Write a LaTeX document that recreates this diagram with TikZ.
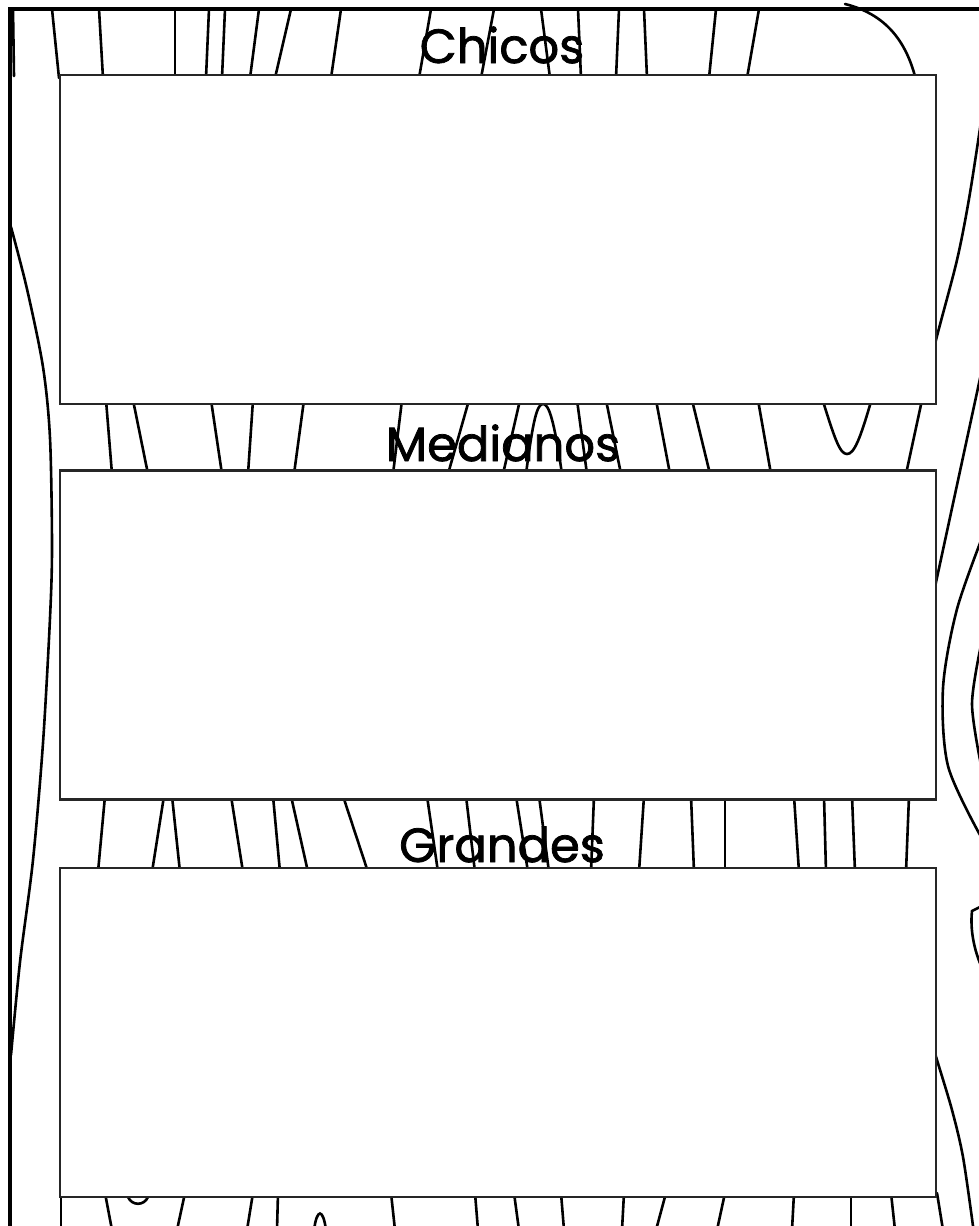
\documentclass[tikz,border=0pt]{standalone}
\usepackage{fontspec}
\setmainfont{Poppins}
\newfontfamily\titlefont{Poppins}[FakeBold=1.6]

\begin{document}
\begin{tikzpicture}[x=0.5pt, y=-0.5pt,
    grain/.style={draw=black, line width=1.3pt, line cap=round},
    panel/.style={rectangle, draw=black!85, line width=1.3pt, fill=white,
        minimum width=438pt, minimum height=164.5pt, inner sep=0pt},
    title/.style={anchor=base, font=\titlefont\fontsize{24}{29}\selectfont, text=black}
]
    \useasboundingbox (0,0) rectangle (979,1226);
    \clip (0,0) rectangle (979,1226);
    \fill[white] (0,0) rectangle (979,1226);

    % top strip
    \foreach \a/\b in {52/59, 99/103, 175/175, 209/206, 225/222, 259/250, 291/275, 341/331, 431/419,
        494/481, 541/550, 578/581, 619/616, 644/647, 716/709, 759/747}
        \draw[grain] (\a,9) -- (\b,78);
    \draw[grain] (13,9) -- (14,76);
    \draw[grain] (845,4) .. controls (885,14) and (906,40) .. (916,80);

    % between Chicos and Medianos
    \foreach \a/\b in {106/112, 133/148, 211/222, 253/248, 304/294, 402/393, 469/448, 520/503,
        577/587, 606/621, 656/670, 692/710, 758/771, 922/906}
        \draw[grain] (\a,400) -- (\b,474);
    \draw[grain] (526,474) .. controls (533,420) and (537,404) .. (543,404)
        .. controls (549,404) and (554,420) .. (562,474);
    \draw[grain] (822,398) .. controls (835,440) and (840,454) .. (847,454)
        .. controls (854,454) and (860,440) .. (872,398);

    % between Medianos and Grandes
    \foreach \a/\b in {105/98, 164/152, 172/180, 231/243, 273/280, 291/308, 343/368, 427/438,
        466/475, 516/528, 539/549, 594/591, 644/639, 691/694, 725/725, 794/799, 824/826,
        852/855, 909/906}
        \draw[grain] (\a,796) -- (\b,872);

    % bottom strip
    \foreach \a/\b in {61/61, 105/112, 185/177, 253/247, 278/277, 391/395, 475/478, 514/519,
        561/564, 624/622, 666/656, 725/717, 794/792, 851/851, 891/895, 937/943}
        \draw[grain] (\a,1193) -- (\b,1230);
    \draw[grain] (128,1197) .. controls (132,1206) and (144,1206) .. (148,1197);
    \draw[grain] (314,1230) .. controls (317,1208) and (323,1208) .. (326,1230);

    % side margins
    \draw[grain] plot[smooth] coordinates {(11,227) (27,289) (43,367) (50,438) (52,547)
        (50,618) (43,743) (33,860) (20,962) (11,1055)};
    \draw[grain] plot[smooth] coordinates {(985,95) (970,193) (957,260) (936,340) (925,390)};
    \draw[grain] (984,360) -- (930,610);
    \draw[grain] plot[smooth] coordinates {(985,530) (957,609) (943,688) (948,766) (980,835)};
    \draw[grain] plot[smooth] coordinates {(981,645) (972,704) (981,765)};
    \draw[grain] (982,906) -- (972,911) .. controls (970,930) and (974,950) .. (982,968);
    \draw[grain] plot[smooth] coordinates {(928,1030) (937,1060) (952,1110) (963,1157) (973,1226)};

    \draw[line width=1.6pt] (10,1240) -- (10,9) -- (990,9);

    \node[panel] (chicos) at (498,239.5) {};
    \node[panel] (medianos) at (498,635) {};
    \node[panel] (grandes) at (498,1032.5) {};

    \node[title] (chicoslbl) at (502,63) {Chicos};
    \node[title] (medianoslbl) at (503,461) {Medianos};
    \node[title] (grandeslbl) at (502,862) {Grandes};
\end{tikzpicture}
\end{document}
